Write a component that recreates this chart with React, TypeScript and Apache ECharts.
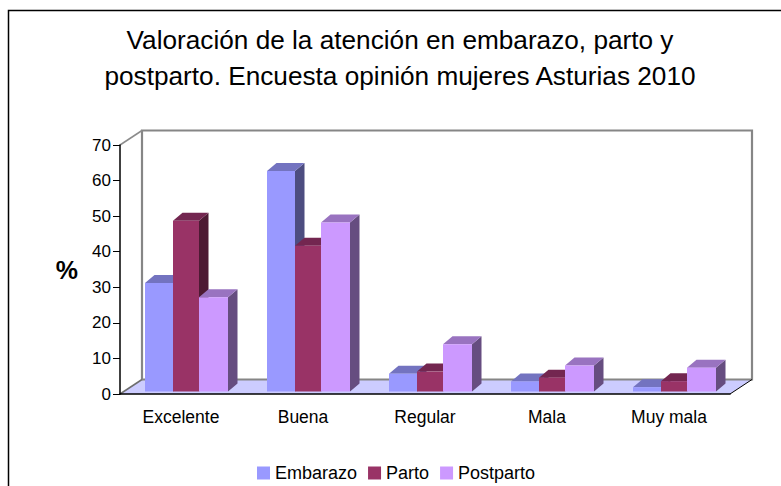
import React, { useEffect, useRef } from "react";
import * as echarts from "echarts";

const categories = ["Excelente", "Buena", "Regular", "Mala", "Muy mala"];
const seriesNames = ["Embarazo", "Parto", "Postparto"];
const embarazo = [30.5, 62, 5, 2.8, 1.2];
const parto = [48, 41, 5.6, 3.9, 2.9];
const postparto = [26.5, 47.5, 13.3, 7.3, 6.7];
const yTicks = { min: 0, max: 70, interval: 10 };

const frontColors = ["#9999ff", "#993366", "#cc99ff"];
const topColors = ["#7373c0", "#732650", "#9973c0"];
const sideColors = ["#4d4d80", "#4d1a33", "#664d80"];

const DX = 9.5;
const DY = 8;
const BAR_LIFT = 2.5;
const BAR_START = 25;
const BAR_EDGES = [0, 28, 54, 83];
const WALL_DX = 22;
const WALL_DY = 14.5;

const polygon = (points: number[][], fill: string) => ({
  type: "polygon",
  shape: { points },
  style: { fill, stroke: "none" },
});

function barSeries(name: string, values: number[], idx: number) {
  return {
    name,
    type: "custom",
    coordinateSystem: "cartesian2d",
    itemStyle: { color: frontColors[idx] },
    z: 5 + idx,
    encode: { x: 0, y: 1 },
    data: values.map((v, i) => [i, v]),
    renderItem: (_p: any, api: any) => {
      const i = api.value(0);
      const catWidth = api.size([1, 0])[0];
      const left = api.coord([i, 0])[0] - catWidth / 2;
      const x0 = left + BAR_START + BAR_EDGES[idx];
      const x1 = left + BAR_START + BAR_EDGES[idx + 1];
      const yBase = api.coord([i, 0])[1] - BAR_LIFT;
      const yTop = api.coord([i, api.value(1)])[1] - BAR_LIFT;
      return {
        type: "group",
        children: [
          polygon([[x1, yTop], [x1 + DX, yTop - DY], [x1 + DX, yBase - DY], [x1, yBase]], sideColors[idx]),
          polygon([[x0, yTop], [x0 + DX, yTop - DY], [x1 + DX, yTop - DY], [x1, yTop]], topColors[idx]),
          polygon([[x0, yTop], [x1, yTop], [x1, yBase], [x0, yBase]], frontColors[idx]),
        ],
      };
    },
  };
}

const wallSeries = {
  type: "custom",
  coordinateSystem: "cartesian2d",
  silent: true,
  z: 1,
  encode: { x: 0, y: 1 },
  data: [[0, 0]],
  renderItem: (_p: any, api: any) => {
    const catWidth = api.size([1, 0])[0];
    const left = api.coord([0, 0])[0] - catWidth / 2;
    const right = left + catWidth * categories.length;
    const y0 = api.coord([0, yTicks.min])[1];
    const y1 = api.coord([0, yTicks.max])[1];
    const wall = { stroke: "#868686", lineWidth: 2.2, fill: "none" };
    return {
      type: "group",
      children: [
        polygon([[left, y0], [left + WALL_DX, y0 - WALL_DY], [right + WALL_DX, y0 - WALL_DY], [right, y0]], "#ccccff"),
        { type: "polyline", shape: { points: [[left + WALL_DX, y0 - WALL_DY], [left + WALL_DX, y1 - WALL_DY], [right + WALL_DX, y1 - WALL_DY], [right + WALL_DX, y0 - WALL_DY], [left + WALL_DX, y0 - WALL_DY]] }, style: wall },
        { type: "line", shape: { x1: left, y1: y1, x2: left + WALL_DX, y2: y1 - WALL_DY }, style: { stroke: "#8c8c8c", lineWidth: 1.5 } },
        { type: "line", shape: { x1: left, y1: y0, x2: left + WALL_DX, y2: y0 - WALL_DY }, style: { stroke: "#6e6e6e", lineWidth: 1.5 } },
        { type: "line", shape: { x1: right, y1: y0, x2: right + WALL_DX, y2: y0 - WALL_DY }, style: { stroke: "#000", lineWidth: 1 } },
      ],
    };
  },
};

export default function App() {
  const ref = useRef<HTMLDivElement>(null);
  useEffect(() => {
    const chart = echarts.init(ref.current!, null, { renderer: "svg" });
    const font = "Liberation Sans";
    chart.setOption({
      animation: false,
      backgroundColor: "#fff",
      textStyle: { fontFamily: font },
      title: {
        text: "Valoración de la atención en embarazo, parto y\npostparto. Encuesta opinión mujeres Asturias 2010",
        left: 395,
        top: 17,
        textAlign: "center",
        textStyle: { fontFamily: font, fontSize: 26.2, fontWeight: "normal", color: "#000", lineHeight: 36 },
      },
      legend: {
        data: seriesNames,
        left: 252,
        top: 459,
        itemWidth: 13,
        itemHeight: 13,
        itemGap: 11,
        icon: "rect",
        textStyle: { fontFamily: font, fontSize: 18, color: "#000" },
      },
      grid: { left: 120, top: 145, width: 610, height: 249 },
      xAxis: {
        type: "category",
        data: categories,
        z: 10,
        axisLine: { lineStyle: { color: "#000", width: 1.5 } },
        axisTick: { length: 6, lineStyle: { color: "#555" } },
        axisLabel: { fontFamily: font, fontSize: 17.5, color: "#000", margin: 14 },
      },
      yAxis: {
        type: "value",
        min: yTicks.min,
        max: yTicks.max,
        interval: yTicks.interval,
        z: 10,
        name: "%",
        nameLocation: "middle",
        nameRotate: 0,
        nameGap: 42,
        nameTextStyle: { fontFamily: font, fontSize: 25, fontWeight: "bold", color: "#000" },
        splitLine: { show: false },
        axisLine: { show: true, lineStyle: { color: "#000", width: 1.5 } },
        axisTick: { show: true, length: 7, lineStyle: { color: "#000" } },
        axisLabel: { fontFamily: font, fontSize: 17, color: "#000", margin: 9 },
      },
      graphic: [
        { type: "polyline", silent: true, shape: { points: [[8.5, 490], [8.5, 10.5], [790, 10.5]] }, style: { stroke: "#000", fill: "none", lineWidth: 1.5 } },
      ],
      series: [
        wallSeries,
        barSeries(seriesNames[0], embarazo, 0),
        barSeries(seriesNames[1], parto, 1),
        barSeries(seriesNames[2], postparto, 2),
      ],
    });
    return () => chart.dispose();
  }, []);
  return <div ref={ref} style={{ position: "fixed", left: 0, top: 0, width: 781, height: 486 }} />;
}
